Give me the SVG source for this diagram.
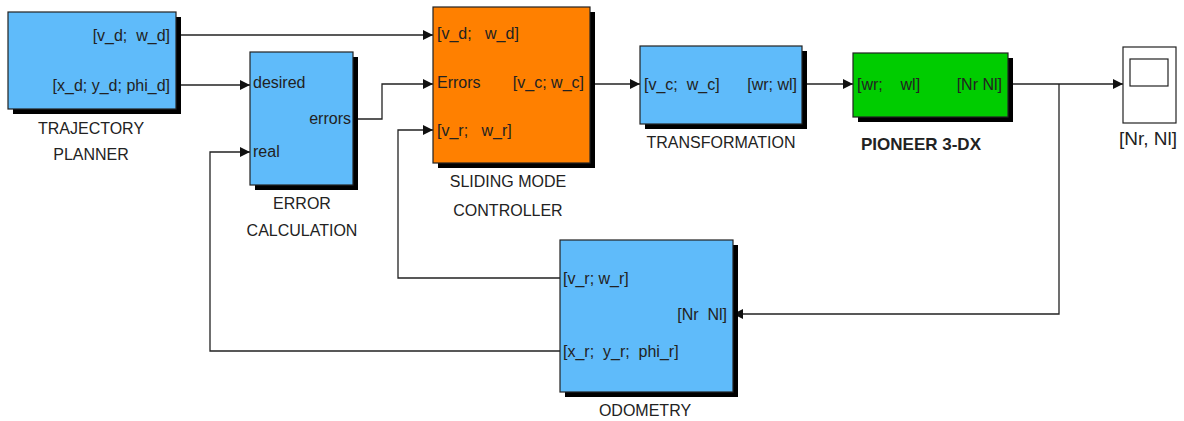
<svg xmlns="http://www.w3.org/2000/svg" width="1184" height="421" viewBox="0 0 1184 421" xml:space="preserve">
<style>
text{font-family:"Liberation Sans",Arial,sans-serif;fill:#222;white-space:pre;}
.lbl{font-size:16px;}
.ttl{font-size:16px;text-anchor:middle;}
.box{stroke:#222;stroke-width:1.2;}
.blue{fill:#5fbbfa;}
.orange{fill:#ff8000;}
.green{fill:#00cc00;}
.sh{fill:#000;}
.wire{fill:none;stroke:#222;stroke-width:1.3;}
.end{text-anchor:end;}
</style>
<defs>
<marker id="arr" viewBox="0 0 10 10" refX="10" refY="5" markerWidth="10" markerHeight="10" markerUnits="userSpaceOnUse" orient="auto">
<path d="M0,0 L10,5 L0,10 z" fill="#111"/>
</marker>
</defs>
<rect width="1184" height="421" fill="#fff"/>

<g id="connectors">
<path class="wire" d="M176,35 H433" marker-end="url(#arr)"/>
<path class="wire" d="M176,85 H250" marker-end="url(#arr)"/>
<path class="wire" d="M353,119 H382 V84 H433" marker-end="url(#arr)"/>
<path class="wire" d="M560,278 H398 V130 H433" marker-end="url(#arr)"/>
<path class="wire" d="M560,351 H210 V152 H250" marker-end="url(#arr)"/>
<path class="wire" d="M590,84 H640" marker-end="url(#arr)"/>
<path class="wire" d="M802,84 H853" marker-end="url(#arr)"/>
<path class="wire" d="M1008,84 H1123" marker-end="url(#arr)"/>
<path class="wire" d="M1059,84 V314 H733" marker-end="url(#arr)"/>
</g>

<g id="trajectory-planner">
<rect class="sh" x="13" y="17" width="168" height="97"/>
<rect class="box blue" x="8" y="12" width="168" height="97"/>
<text class="lbl end" x="170" y="41">[v_d;  w_d]</text>
<text class="lbl end" x="170" y="91">[x_d; y_d; phi_d]</text>
<text class="ttl" x="91" y="134">TRAJECTORY</text>
<text class="ttl" x="91" y="160">PLANNER</text>
</g>

<g id="error-calculation">
<rect class="sh" x="255" y="57" width="103" height="133"/>
<rect class="box blue" x="250" y="52" width="103" height="133"/>
<text class="lbl" x="253" y="88">desired</text>
<text class="lbl end" x="351" y="124">errors</text>
<text class="lbl" x="253" y="157">real</text>
<text class="ttl" x="302" y="209">ERROR</text>
<text class="ttl" x="302" y="236">CALCULATION</text>
</g>

<g id="sliding-mode-controller">
<rect class="sh" x="438" y="12" width="157" height="156"/>
<rect class="box orange" x="433" y="7" width="157" height="156"/>
<text class="lbl" x="437" y="39">[v_d;   w_d]</text>
<text class="lbl" x="437" y="88">Errors</text>
<text class="lbl end" x="584" y="88">[v_c; w_c]</text>
<text class="lbl" x="437" y="136">[v_r;   w_r]</text>
<text class="ttl" x="508" y="187">SLIDING MODE</text>
<text class="ttl" x="508" y="216">CONTROLLER</text>
</g>

<g id="transformation">
<rect class="sh" x="645" y="51" width="162" height="78"/>
<rect class="box blue" x="640" y="46" width="162" height="78"/>
<text class="lbl" x="644" y="90">[v_c;  w_c]</text>
<text class="lbl end" x="797" y="90">[wr; wl]</text>
<text class="ttl" x="721" y="148">TRANSFORMATION</text>
</g>

<g id="pioneer-3dx">
<rect class="sh" x="858" y="58" width="155" height="64"/>
<rect class="box green" x="853" y="53" width="155" height="64"/>
<text class="lbl" x="857" y="90">[wr;    wl]</text>
<text class="lbl end" x="1002" y="90">[Nr Nl]</text>
<text class="ttl" x="921" y="150" style="font-weight:bold;font-size:17px">PIONEER 3-DX</text>
</g>

<g id="scope">
<rect x="1123" y="47" width="53" height="76" fill="#fff" stroke="#222" stroke-width="1.2"/>
<rect x="1130" y="59" width="38" height="27" fill="#fff" stroke="#222" stroke-width="1.2"/>
<text class="ttl" x="1148" y="145" style="font-size:19px">[Nr, Nl]</text>
</g>

<g id="odometry">
<rect class="sh" x="565" y="245" width="173" height="152"/>
<rect class="box blue" x="560" y="240" width="173" height="152"/>
<text class="lbl" x="563" y="284">[v_r; w_r]</text>
<text class="lbl end" x="727" y="320">[Nr  Nl]</text>
<text class="lbl" x="563" y="357">[x_r;  y_r;  phi_r]</text>
<text class="ttl" x="645" y="416">ODOMETRY</text>
</g>
</svg>
